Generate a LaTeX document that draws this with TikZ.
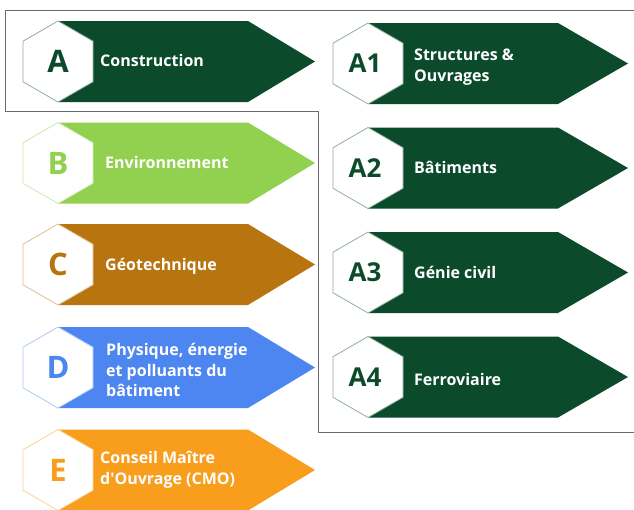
\documentclass[tikz,border=0pt]{standalone}
\usepackage{fontspec}
\setmainfont{Open Sans}
\usetikzlibrary{shapes.geometric}
\definecolor{cA}{HTML}{0B4A2B}
\definecolor{cB}{HTML}{92D050}
\definecolor{cC}{HTML}{B8740F}
\definecolor{cD}{HTML}{4D86F0}
\definecolor{cE}{HTML}{F99D1C}
\definecolor{frameg}{HTML}{6B6B6B}
\tikzset{
  hexa/.style={regular polygon, regular polygon sides=6, shape border rotate=30,
    minimum size=81pt, inner sep=0pt, outer sep=0pt, fill=white, draw=#1!45, line width=0.8pt},
  bigletter/.style={text=#1, font=\bfseries\fontsize{31}{31}\selectfont},
  smallletter/.style={text=#1, font=\bfseries\fontsize{26}{26}\selectfont},
  itemtext/.style={text=white, anchor=west, align=left, inner sep=0pt,
    font=\bfseries\fontsize{16}{20.5}\selectfont},
  frameline/.style={draw=frameg, line width=0.9pt},
}
% #1 name, #2 hex centre x, #3 centre y, #4 flat end x, #5 tip x, #6 colour
\newcommand\bodyarrow[6]{%
  \fill[#6] (#2,#3-40.5) -- (#4,#3-40.5) -- (#5,#3) -- (#4,#3+40.5) -- (#2,#3+40.5) -- cycle;
  \node[hexa=#6] (#1) at (#2,#3) {};
}
\begin{document}
\begin{tikzpicture}[x=1pt,y=-1pt]
\useasboundingbox (0,0) rectangle (634,509);
% frame
\draw[frameline] (634,10) -- (5,10) -- (5,111) -- (318,111) -- (318,432) -- (634,432);
% left column
\bodyarrow{hA}{58}{61.5}{248}{315}{cA}
\node[bigletter=cA] (lA) at (hA) {A};
\node[itemtext] (tA) at (100,60) {Construction};
\bodyarrow{hB}{58}{163}{248}{315}{cB}
\node[bigletter=cB] (lB) at (hB) {B};
\node[itemtext] (tB) at (105,162) {Environnement};
\bodyarrow{hC}{58}{264.5}{248}{315}{cC}
\node[bigletter=cC] (lC) at (hC) {C};
\node[itemtext] (tC) at (105,266) {Géotechnique};
\bodyarrow{hD}{58}{367.5}{248}{315}{cD}
\node[bigletter=cD] (lD) at (hD) {D};
\node[itemtext] (tD) at (106,370) {Physique, énergie\\et polluants du\\bâtiment};
\bodyarrow{hE}{58}{470}{248}{315}{cE}
\node[bigletter=cE] (lE) at (hE) {E};
\node[itemtext] (tE) at (100,470) {Conseil Maître\\d\textquotesingle Ouvrage (CMO)};
% right column
\bodyarrow{hA1}{368}{63.5}{558}{628}{cA}
\node[smallletter=cA] (lA1) at ([xshift=-3pt]hA1) {A1};
\node[itemtext] (tA1) at (414,67) {Structures \&\\Ouvrages};
\bodyarrow{hA2}{368}{168}{558}{628}{cA}
\node[smallletter=cA] (lA2) at ([xshift=-3pt]hA2) {A2};
\node[itemtext] (tA2) at (414,167) {Bâtiments};
\bodyarrow{hA3}{368}{272.5}{558}{628}{cA}
\node[smallletter=cA] (lA3) at ([xshift=-3pt]hA3) {A3};
\node[itemtext] (tA3) at (414,272) {Génie civil};
\bodyarrow{hA4}{368}{377}{558}{628}{cA}
\node[smallletter=cA] (lA4) at ([xshift=-3pt]hA4) {A4};
\node[itemtext] (tA4) at (414,379) {Ferroviaire};
\end{tikzpicture}
\end{document}
